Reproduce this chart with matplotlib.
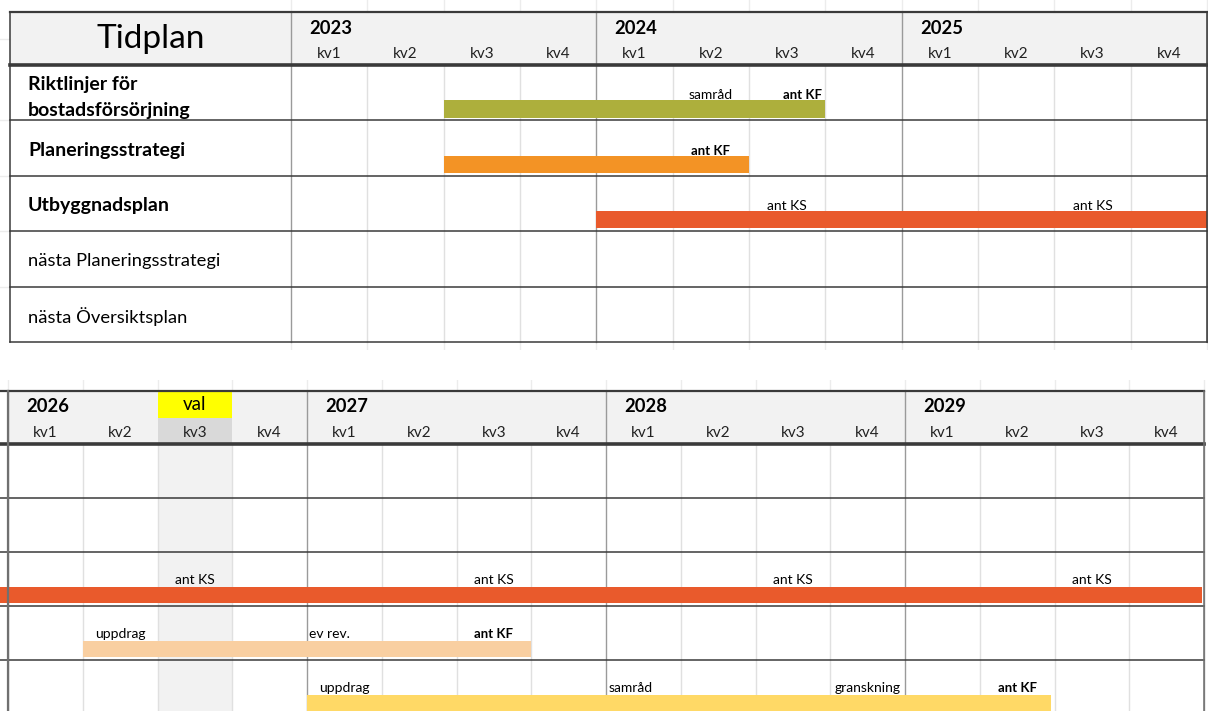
import matplotlib
matplotlib.use("Agg")
import matplotlib.pyplot as plt
from matplotlib.patches import Rectangle

plt.rcParams['font.family'] = ['Lato', 'DejaVu Sans']

# ---------------- data ----------------
title = "Tidplan"
rows = ["Riktlinjer för\nbostadsförsörjning", "Planeringsstrategi", "Utbyggnadsplan",
        "nästa Planeringsstrategi", "nästa Översiktsplan"]
row_bold = [True, True, True, False, False]
quarters = ["kv1", "kv2", "kv3", "kv4"]
years_top = ["2023", "2024", "2025"]
years_bottom = ["2026", "2027", "2028", "2029"]
election_label = "val"
election_quarter = 2          # 2026 kv3 (index in bottom timeline)

# bars: (row, start quarter, end quarter, colour) ; quarter 0 = 2023 kv1 (top), 2026 kv1 (bottom)
bars_top = [(0, 2, 7, "#adaf3c"), (1, 2, 6, "#f39325"), (2, 4, 12, "#e95a2c")]
bars_bottom = [(2, -0.3, 15.97, "#e95a2c"), (3, 1, 7, "#f9cfa1"), (4, 4, 13.95, "#ffd966")]

# annotations: (row, quarter position, text, bold, align)
notes_top = [(0, 5.5, "samråd", False, "center"), (0, 6.95, "ant KF", True, "right"),
             (1, 5.5, "ant KF", True, "center"),
             (2, 6.5, "ant KS", False, "center"), (2, 10.5, "ant KS", False, "center")]
notes_bottom = [(2, 2.5, "ant KS", False, "center"), (2, 6.5, "ant KS", False, "center"),
                (2, 10.5, "ant KS", False, "center"), (2, 14.5, "ant KS", False, "center"),
                (3, 1.5, "uppdrag", False, "center"), (3, 4.03, "ev rev.", False, "left"),
                (3, 6.5, "ant KF", True, "center"),
                (4, 4.5, "uppdrag", False, "center"), (4, 8.03, "samråd", False, "left"),
                (4, 11.5, "granskning", False, "center"), (4, 13.5, "ant KF", True, "center")]

# ---------------- layout ----------------
W, H = 1208, 711
fig = plt.figure(figsize=(W / 100, H / 100), dpi=100)
fig.patch.set_facecolor("white")

HEADER_FILL = "#f2f2f2"
DARK = "#3a3a3a"
YEARLINE = "#9a9a9a"
QLINE = "#e0e0e0"
FAINT = "#ececec"
BAR_Y0, BAR_H = 0.64, 0.31
FS_NOTE, FS_NOTE_B = 10, 9.5
FS_KV, FS_YEAR = 11, 13.2


def make_axes(top_px, bot_px, x0_px, qpx, y0_px, rpx):
    ax = fig.add_axes([0, 1 - bot_px / H, 1, (bot_px - top_px) / H])
    ax.set_xlim(-x0_px / qpx, (W - x0_px) / qpx)
    ax.set_ylim((bot_px - y0_px) / rpx, -(y0_px - top_px) / rpx)
    ax.axis("off")
    return ax


# ================= top table =================
Q1 = 916 / 12
R1 = 55.4
ax1 = make_axes(0, 350, 291, Q1, 65, R1)
nq1 = 4 * len(years_top)
xl1 = -281 / Q1            # left border of label column
hdr1 = -53 / R1            # header top
nrow_top = len(rows)
ytop_ax1, ybot_ax1 = ax1.get_ylim()[1], ax1.get_ylim()[0]

ax1.add_patch(Rectangle((xl1, hdr1), nq1 - xl1, -hdr1, facecolor=HEADER_FILL, edgecolor="none", zorder=0))
for q in range(0, nq1 + 1):
    col = YEARLINE if q % 4 == 0 else QLINE
    ax1.plot([q, q], [ytop_ax1, hdr1], color=FAINT, lw=1, zorder=1)
    ax1.plot([q, q], [nrow_top, ybot_ax1], color=FAINT, lw=1, zorder=1)
    ax1.plot([q, q], [0, nrow_top], color=col, lw=1, zorder=1)
    if q % 4 == 0:
        ax1.plot([q, q], [hdr1, 0], color=YEARLINE, lw=1, zorder=1)
for r in range(1, nrow_top):
    ax1.plot([ax1.get_xlim()[0], xl1], [r, r], color=FAINT, lw=1, zorder=1)
ax1.plot([ax1.get_xlim()[0], xl1], [hdr1 / 2, hdr1 / 2], color=FAINT, lw=1, zorder=1)

for (r, s, e, c) in bars_top:
    ax1.add_patch(Rectangle((s, r + BAR_Y0), e - s, BAR_H, facecolor=c, edgecolor="none", zorder=3))

for r in range(1, nrow_top + 1):
    ax1.plot([xl1, nq1], [r, r], color=DARK, lw=1.1, zorder=4)
ax1.plot([xl1, nq1], [0, 0], color=DARK, lw=2.6, zorder=4)
ax1.plot([xl1, nq1], [hdr1, hdr1], color=DARK, lw=1.6, zorder=4)
ax1.plot([xl1, xl1], [hdr1, nrow_top], color=DARK, lw=1.1, zorder=4)
ax1.plot([nq1, nq1], [hdr1, nrow_top], color=DARK, lw=1.1, zorder=4)

ax1.text((xl1 + 0) / 2, hdr1 / 2, title, fontsize=24, ha="center", va="center", color="black", zorder=5)
for i, y in enumerate(years_top):
    ax1.text(4 * i + 0.24, hdr1 * 0.69, y, fontsize=FS_YEAR, fontweight="bold", ha="left", va="center", zorder=5)
    for j, kv in enumerate(quarters):
        ax1.text(4 * i + j + 0.5, hdr1 * 0.21, kv, fontsize=FS_KV, ha="center", va="center", color="#222222", zorder=5)
for r, lab in enumerate(rows):
    two_line = "\n" in lab
    ax1.text(xl1 + 18 / Q1, r + (0.58 if two_line else 0.54), lab, fontsize=14 if row_bold[r] else 13.2,
             fontweight="bold" if row_bold[r] else "normal",
             ha="left", va="center", linespacing=1.65, color="black", zorder=5)
for (r, x, t, b, a) in notes_top:
    ax1.text(x, r + 0.55, t, fontsize=FS_NOTE_B if b else FS_NOTE, fontweight="bold" if b else "normal",
             ha=a, va="center", color="black", zorder=5)

# ================= bottom table =================
Q2 = 1196 / 16
R2 = 54
ax2 = make_axes(380, H, 8, Q2, 444, R2)
nq2 = 4 * len(years_bottom)
hdr2 = -53 / R2
ytop_ax2, ybot_ax2 = ax2.get_ylim()[1], ax2.get_ylim()[0]
xmin2 = ax2.get_xlim()[0]

ax2.add_patch(Rectangle((0, hdr2), nq2, -hdr2, facecolor=HEADER_FILL, edgecolor="none", zorder=0))
eq = election_quarter
ax2.add_patch(Rectangle((eq, hdr2), 1, -hdr2 * 0.5, facecolor="#ffff00", edgecolor="none", zorder=1))
ax2.add_patch(Rectangle((eq, hdr2 * 0.5), 1, -hdr2 * 0.5, facecolor="#d9d9d9", edgecolor="none", zorder=1))
ax2.add_patch(Rectangle((eq, 0), 1, ybot_ax2, facecolor="#f2f2f2", edgecolor="none", zorder=0))

for q in range(0, nq2 + 1):
    col = YEARLINE if q % 4 == 0 else QLINE
    ax2.plot([q, q], [ytop_ax2, hdr2], color=FAINT, lw=1, zorder=1)
    ax2.plot([q, q], [0, ybot_ax2], color=col, lw=1, zorder=1)
    if q % 4 == 0:
        ax2.plot([q, q], [hdr2, 0], color=YEARLINE, lw=1, zorder=1)

for (r, s, e, c) in bars_bottom:
    ax2.add_patch(Rectangle((s, r + BAR_Y0), e - s, BAR_H, facecolor=c, edgecolor="none", zorder=3))

for r in range(1, nrow_top + 1):
    ax2.plot([xmin2, nq2], [r, r], color=DARK, lw=1.1, zorder=4)
ax2.plot([xmin2, nq2], [0, 0], color=DARK, lw=2.6, zorder=4)
ax2.plot([xmin2, nq2], [hdr2, hdr2], color=DARK, lw=1.6, zorder=4)
ax2.plot([0, 0], [hdr2, ybot_ax2], color="#707070", lw=1.6, zorder=4)
ax2.plot([nq2, nq2], [hdr2, ybot_ax2], color="#707070", lw=1.1, zorder=4)

ax2.text(eq + 0.5, hdr2 * 0.74, election_label, fontsize=13.5, ha="center", va="center", zorder=5)
for i, y in enumerate(years_bottom):
    ax2.text(4 * i + 0.24, hdr2 * 0.70, y, fontsize=FS_YEAR, fontweight="bold", ha="left", va="center", zorder=5)
    for j, kv in enumerate(quarters):
        ax2.text(4 * i + j + 0.5, hdr2 * 0.2, kv, fontsize=FS_KV, ha="center", va="center", color="#222222", zorder=5)
for (r, x, t, b, a) in notes_bottom:
    ax2.text(x, r + 0.51, t, fontsize=FS_NOTE_B if b else FS_NOTE, fontweight="bold" if b else "normal",
             ha=a, va="center", color="black", zorder=5)

fig.savefig("out.png", dpi=100, facecolor="white")
